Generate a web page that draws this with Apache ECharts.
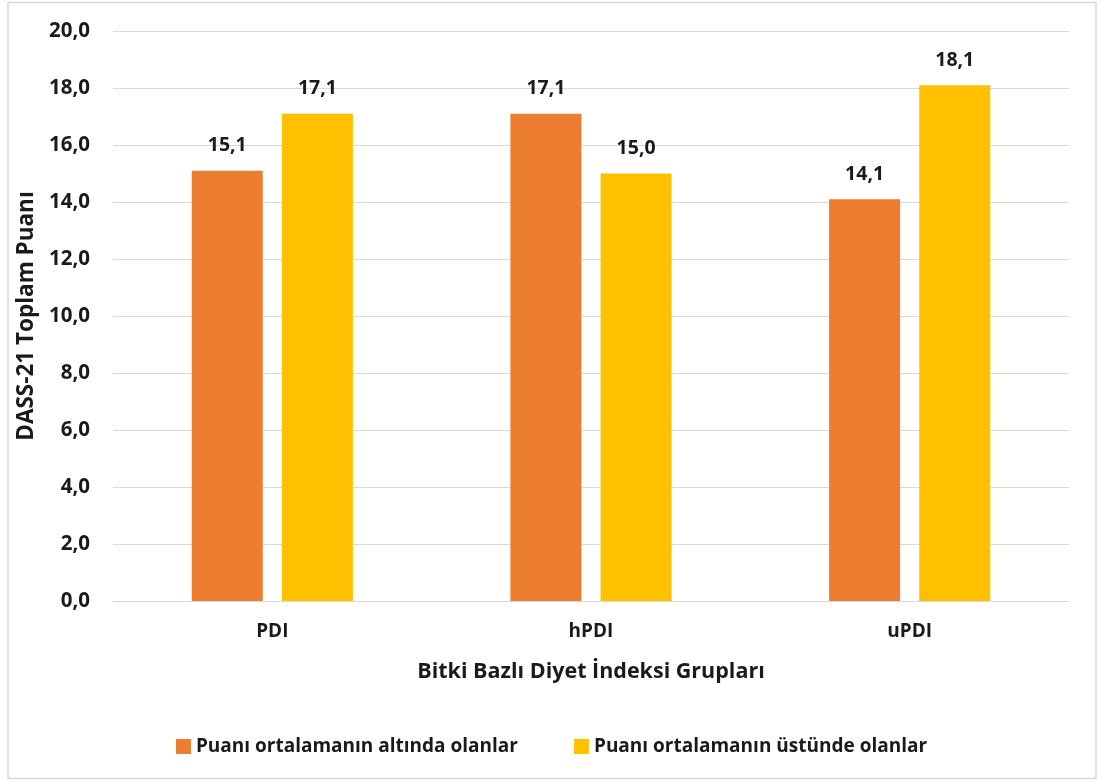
<!DOCTYPE html>
<html><head><meta charset="utf-8">
<script src="https://cdn.jsdelivr.net/npm/echarts@6/dist/echarts.min.js"></script>
<style>html,body{margin:0;padding:0;background:#fff}#c{width:1103px;height:782px}</style>
</head><body><div id="c"></div>
<script>
const categories = ['PDI', 'hPDI', 'uPDI'];
const belowAvg = [15.1, 17.1, 14.1];
const aboveAvg = [17.1, 15.0, 18.1];
const seriesNames = ['Puanı ortalamanın altında olanlar', 'Puanı ortalamanın üstünde olanlar'];
const yTitle = 'DASS-21 Toplam Puanı';
const xTitle = 'Bitki Bazlı Diyet İndeksi Grupları';

const FONT = '"Open Sans", "Noto Sans", sans-serif';
const TXT = '#1a1a1a';
const fmt = v => Number(v).toFixed(1).replace('.', ',');
const chart = echarts.init(document.getElementById('c'), null, {renderer: 'canvas'});
chart.setOption({
  animation: false,
  textStyle: {fontFamily: FONT},
  graphic: [{type: 'rect', shape: {x: 8, y: 2.5, width: 1088, height: 776}, style: {fill: 'none', stroke: '#d9d9d9', lineWidth: 1.5}, silent: true}],
  grid: {left: 113, right: 34, top: 31, bottom: 181, containLabel: false},
  legend: {
    bottom: 21, left: 'center', itemGap: 56, itemWidth: 15, itemHeight: 15, icon: 'rect',
    textStyle: {fontSize: 19, fontWeight: 'bold', color: TXT, fontFamily: FONT},
    data: seriesNames
  },
  xAxis: {
    type: 'category', data: categories,
    axisLine: {lineStyle: {color: '#d9d9d9', width: 1}}, axisTick: {show: false},
    axisLabel: {fontSize: 19, fontWeight: 'bold', color: TXT, margin: 21},
    name: xTitle, nameLocation: 'middle', nameGap: 60,
    nameTextStyle: {fontSize: 21.5, fontWeight: 'bold', color: TXT}
  },
  yAxis: {
    type: 'value', min: 0, max: 20, interval: 2,
    axisLine: {show: false}, axisTick: {show: false},
    splitLine: {lineStyle: {color: '#d9d9d9', width: 1}},
    axisLabel: {fontSize: 20.5, fontWeight: 'bold', color: TXT, margin: 23, formatter: fmt},
    name: yTitle, nameLocation: 'middle', nameGap: 72, nameRotate: 90,
    nameTextStyle: {fontSize: 22.5, fontWeight: 'bold', color: TXT}
  },
  series: [
    {name: seriesNames[0], type: 'bar', data: belowAvg, barWidth: 71, barGap: '27%',
     itemStyle: {color: '#ED7D31'},
     label: {show: true, position: 'top', distance: 15, fontSize: 19.5, fontWeight: 'bold', color: TXT, formatter: p => fmt(p.value)}},
    {name: seriesNames[1], type: 'bar', data: aboveAvg, barWidth: 71,
     itemStyle: {color: '#FFC000'},
     label: {show: true, position: 'top', distance: 15, fontSize: 19.5, fontWeight: 'bold', color: TXT, formatter: p => fmt(p.value)}}
  ]
});
</script></body></html>
